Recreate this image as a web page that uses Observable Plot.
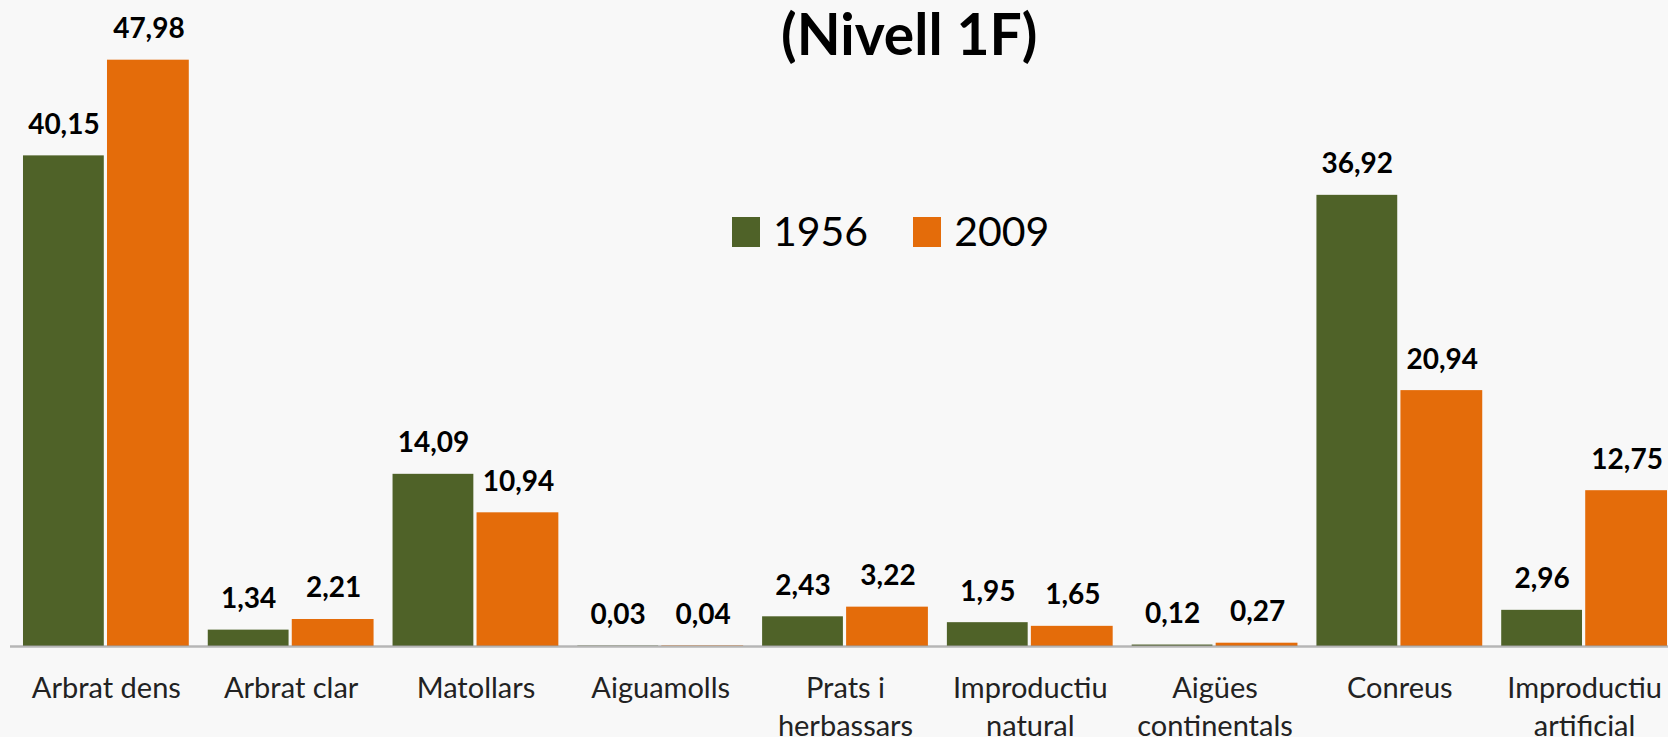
<!DOCTYPE html>
<html>
<head>
<meta charset="utf-8">
<script src="https://cdn.jsdelivr.net/npm/d3@7"></script>
<script src="https://cdn.jsdelivr.net/npm/@observablehq/plot@0.6"></script>
<style>
  html, body { margin: 0; padding: 0; width: 1668px; height: 737px; overflow: hidden; background: #f8f8f8; }
  #wrap { position: relative; width: 1668px; height: 737px; overflow: hidden; }
  #title { position: absolute; left: 781px; top: 5px; font-family: Lato, sans-serif; font-weight: bold; font-size: 57px; line-height: 1; color: #000; white-space: nowrap; }
  #legend { position: absolute; left: 732px; top: 210px; font-family: Lato, sans-serif; font-size: 41px; line-height: 1; color: #000; display: flex; white-space: nowrap; }
  #legend .item { display: inline-flex; align-items: baseline; margin-right: 45px; }
  #legend .sw { display: inline-block; width: 28px; height: 30px; margin-right: 13px; position: relative; top: 1px; }
  #chart { position: absolute; left: 0; top: 0; }
</style>
</head>
<body>
<div id="wrap">
  <div id="chart"></div>
  <div id="title">(Nivell 1F)</div>
  <div id="legend"></div>
</div>
<script>
const categories = ["Arbrat dens", "Arbrat clar", "Matollars", "Aiguamolls", "Prats i herbassars", "Improductiu natural", "Aigües continentals", "Conreus", "Improductiu artificial"];
const tickLabels = ["Arbrat dens", "Arbrat clar", "Matollars", "Aiguamolls", "Prats i\nherbassars", "Improductiu\nnatural", "Aigües\ncontinentals", "Conreus", "Improductiu\nartificial"];
const values1956 = [40.15, 1.34, 14.09, 0.03, 2.43, 1.95, 0.12, 36.92, 2.96];
const values2009 = [47.98, 2.21, 10.94, 0.04, 3.22, 1.65, 0.27, 20.94, 12.75];
const years = ["1956", "2009"];
const colors = ["#4F6228", "#E46C0A"];

const rows1956 = categories.map((c, i) => ({cat: c, year: years[0], value: values1956[i]}));
const rows2009 = categories.map((c, i) => ({cat: c, year: years[1], value: values2009[i]}));
const fmt = v => d3.format(".2f")(v).replace(".", ",");
const tickFmt = d => tickLabels[categories.indexOf(d)];

const labelStyle = {x: "cat", y: "value", text: d => fmt(d.value), lineAnchor: "bottom", dy: -22, fontWeight: "bold", fontSize: 28, fill: "#000"};

const chart = Plot.plot({
  width: 1680,
  height: 760,
  marginLeft: 10,
  marginRight: 0,
  marginTop: 35,
  marginBottom: 114,
  style: {background: "#f8f8f8", fontFamily: "Lato, sans-serif", maxWidth: "none", overflow: "visible"},
  x: {domain: categories, paddingInner: 0.1027, paddingOuter: 0.0703, round: false, label: null, axis: null},
  y: {domain: [0, 50], axis: null},
  marks: [
    Plot.barY(rows1956, {x: "cat", y: "value", fill: colors[0], insetRight: 85}),
    Plot.barY(rows2009, {x: "cat", y: "value", fill: colors[1], insetLeft: 84}),
    Plot.ruleY([0], {stroke: "#9a9a9a", strokeWidth: 2.5, strokeOpacity: 0.7}),
    Plot.text(rows1956, {...labelStyle, dx: -42.5}),
    Plot.text(rows2009, {...labelStyle, dx: 42.5}),
    Plot.axisX({tickSize: 0, tickPadding: 25, fontSize: 29, lineHeight: 1.3, fill: "#222", label: null, tickFormat: tickFmt})
  ]
});
document.getElementById("chart").appendChild(chart);

const legend = document.getElementById("legend");
years.forEach((y, i) => {
  const item = document.createElement("span");
  item.className = "item";
  const sw = document.createElement("span");
  sw.className = "sw";
  sw.style.background = colors[i];
  item.appendChild(sw);
  item.appendChild(document.createTextNode(y));
  legend.appendChild(item);
});
</script>
</body>
</html>
